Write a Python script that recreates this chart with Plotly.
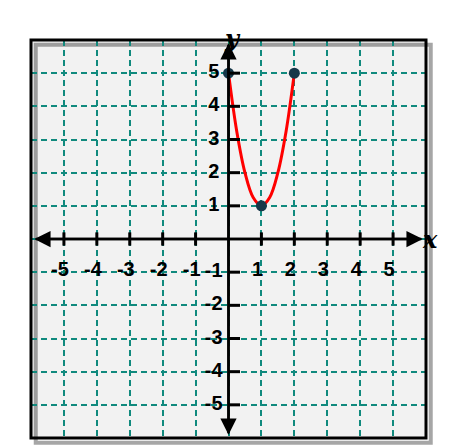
import plotly.graph_objects as go

# curve values
curve_x = [0, 0.25, 0.5, 0.75, 1, 1.25, 1.5, 1.75, 2]
curve_y = [5, 3.25, 2, 1.25, 1, 1.25, 2, 3.25, 5]
pts_x = [0, 1, 2]
pts_y = [5, 1, 5]
ticks = [-5, -4, -3, -2, -1, 1, 2, 3, 4, 5]
tick_labels = ["<b>" + str(t) + "</b>" for t in ticks]

fig = go.Figure()

# axis tick marks
for t in ticks:
    fig.add_shape(type="line", x0=t, x1=t, y0=-0.2, y1=0.2, line=dict(color="black", width=3))
    fig.add_shape(type="line", x0=0, x1=0.35, y0=t, y1=t, line=dict(color="black", width=3))

# axes with arrows
for ax, ay, x, y in [(-5.9, 0, 5.9, 0), (5.9, 0, -5.9, 0), (0, -5.9, 0, 5.9), (0, 5.9, 0, -5.9)]:
    fig.add_annotation(x=x, y=y, ax=ax, ay=ay, xref="x", yref="y", axref="x", ayref="y",
                       showarrow=True, arrowhead=2, arrowsize=1.3, arrowwidth=2.5,
                       arrowcolor="black", text="")

fig.add_trace(go.Scatter(x=curve_x, y=curve_y, mode="lines", line=dict(color="red", width=3, shape="spline")))
fig.add_trace(go.Scatter(x=pts_x, y=pts_y, mode="markers", marker=dict(color="#17384a", size=11)))

font = dict(size=20, color="black", family="Liberation Sans, Arial")
fig.add_trace(go.Scatter(x=[t - 0.12 for t in ticks], y=[-0.95] * len(ticks), mode="text",
                         text=tick_labels, textfont=font, cliponaxis=False))
fig.add_trace(go.Scatter(x=[-0.45] * len(ticks), y=ticks, mode="text",
                         text=tick_labels, textfont=font, cliponaxis=False))

fig.add_annotation(x=1.035, y=0.5, xref="paper", yref="paper", text="<i><b>x</b></i>", showarrow=False,
                   font=dict(size=24, family="DejaVu Serif", color="black"))
fig.add_annotation(x=0.51, y=1.045, xref="paper", yref="paper", text="<i><b>y</b></i>", showarrow=False,
                   font=dict(size=24, family="DejaVu Serif", color="black"))

# shadow and border
fig.add_shape(type="rect", xref="paper", yref="paper", x0=0.012, x1=1.012, y0=-0.012, y1=0.988,
              line=dict(color="rgba(0,0,0,0.35)", width=4), layer="below")
fig.add_shape(type="rect", xref="paper", yref="paper", x0=0, x1=1, y0=0, y1=1,
              line=dict(color="black", width=3))

grid = dict(showgrid=True, gridcolor="#118a7e", griddash="6px,4px", gridwidth=1.5,
            range=[-6, 6], dtick=1, tick0=0, showticklabels=False, zeroline=False,
            fixedrange=True, automargin=False)
fig.update_xaxes(**grid)
fig.update_yaxes(**grid)
fig.update_layout(width=461, height=445, margin=dict(l=23, r=43, t=32, b=15, autoexpand=False),
                  plot_bgcolor="#f2f2f2", paper_bgcolor="white", showlegend=False)
fig.write_html("out.html")
